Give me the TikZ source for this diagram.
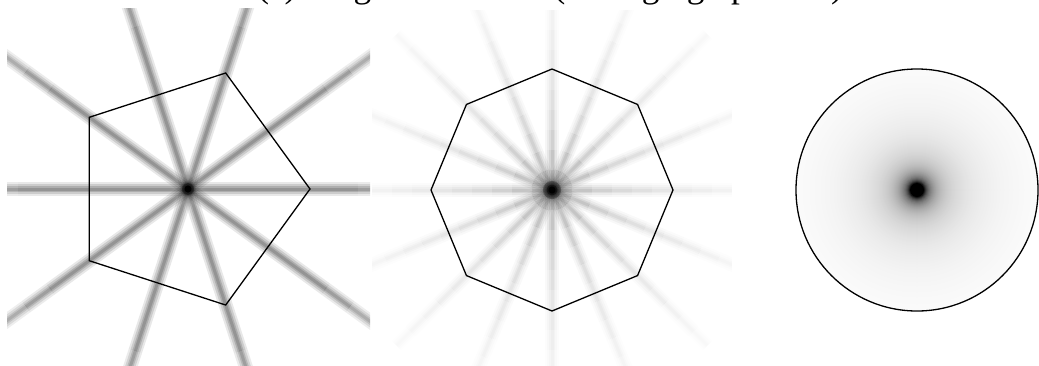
\documentclass[tikz,border=0pt]{standalone}
\usepackage{fontspec}
\setmainfont{Liberation Serif}
\usetikzlibrary{calc}
\newcommand\mytitlefont{\fontsize{35.3}{42}\selectfont}
% blurred spoke segment: #1 centre, #2 angle, #3 r1, #4 r2 ; uses \segf
\newcommand\blurseg[4]{%
  \foreach \w/\o in {14/0.1,10/0.13,6/0.16,3/0.16}{%
    \pgfmathsetmacro\oo{\o*\segf}%
    \draw[line width=\w pt, opacity=\oo, line cap=butt] ($(#1)+(#2:#3)$) -- ($(#1)+(#2:#4)$);
  }}
\tikzset{outline/.style={draw=black, line width=1.3pt, line join=miter}}
\begin{document}
\begin{tikzpicture}[x=1pt,y=-1pt]
\useasboundingbox (0,0) rectangle (1039,365);
\fill[white] (0,0) rectangle (1039,365);
\coordinate (L) at (188,189);
\coordinate (M) at (552,190);
\coordinate (R) at (917,190);
% title (cut by top edge)
\node[anchor=base, font=\mytitlefont, inner sep=0pt] (title) at (550,-2.5) {(c) Large bandwidth (averaging operator)};
% left panel spokes
\begin{scope}
\clip (7,8) rectangle (370,368);
\foreach \a in {0,36,...,324}{%
  \foreach \ra/\rb/\f in {0/170/0.9,170/200/0.8,200/230/0.65,230/280/0.5}{%
    \pgfmathsetmacro\segf{\f}%
    \blurseg{L}{\a}{\ra}{\rb}%
  }}
\end{scope}
\fill[black, opacity=0.35] (L) circle (6);
\fill[black] (L) circle (3.5);
\draw[outline] (L) ++(0:122) -- ++($(72:122)-(0:122)$) -- ++($(144:122)-(72:122)$) -- ++($(216:122)-(144:122)$) -- ++($(288:122)-(216:122)$) -- cycle;
% middle panel spokes
\begin{scope}
\clip (372,10) rectangle (732,370);
\foreach \a in {0,22.5,...,337.5}{%
  \foreach \ra in {0,20,...,200}{%
    \pgfmathsetmacro\rb{\ra+20}%
    \pgfmathsetmacro\segf{0.6*exp(-(\ra+10)/90)}%
    \blurseg{M}{\a}{\ra}{\rb}%
  }}
\end{scope}
\fill[black, opacity=0.3] (M) circle (9);
\fill[black, opacity=0.4] (M) circle (5.5);
\fill[black] (M) circle (3.5);
\draw[outline] ($(M)+(0:121)$) -- ($(M)+(45:121)$) -- ($(M)+(90:121)$) -- ($(M)+(135:121)$) -- ($(M)+(180:121)$) -- ($(M)+(225:121)$) -- ($(M)+(270:121)$) -- ($(M)+(315:121)$) -- cycle;
% right panel radial blob
\foreach \r in {120,119,...,1}{%
  \pgfmathsetmacro\d{min(100,max(0,760/\r-4.5))}%
  \fill[black!\d] (R) circle (\r);
}
\draw[outline] (R) circle (121);
\end{tikzpicture}
\end{document}
